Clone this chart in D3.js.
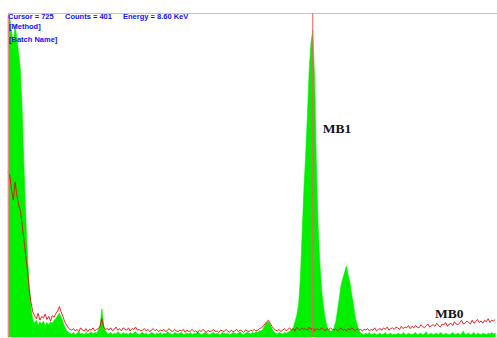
<!DOCTYPE html>
<html>
<head>
<meta charset="utf-8">
<script src="https://cdn.jsdelivr.net/npm/d3@7"></script>
<style>
  html, body { margin: 0; padding: 0; background: #fff; }
  svg { display: block; }
</style>
</head>
<body>
<div id="chart"></div>
<script>
// spectrum channels, 0.05 keV each
const channelWidth = 0.05;

// MB1 sample (green fill)
const mb1Counts = [
  422, 420, 400, 385, 410, 392, 372, 350, 297, 225,
  160, 107, 64, 38, 22, 18, 22, 15, 20, 17,
  21, 14, 19, 16, 20, 18, 22, 24, 28, 31,
  26, 20, 13, 9, 6, 5, 4, 6, 3, 5,
  7, 4, 5, 3, 6, 4, 5, 7, 4, 6,
  5, 9, 16, 37, 15, 8, 5, 4, 6, 3,
  5, 4, 7, 5, 3, 6, 4, 5, 3, 6,
  4, 5, 7, 4, 3, 5, 6, 4, 5, 3,
  4, 6, 5, 3, 5, 4, 6, 3, 5, 4,
  7, 5, 4, 3, 6, 5, 4, 5, 6, 3,
  4, 5, 4, 6, 3, 5, 4, 7, 5, 3,
  4, 6, 5, 4, 3, 5, 6, 4, 5, 4,
  3, 6, 5, 4, 5, 3, 4, 6, 5, 4,
  5, 7, 4, 3, 5, 6, 5, 4, 6, 5,
  7, 6, 8, 8, 11, 15, 19, 20, 16, 11,
  7, 5, 4, 6, 5, 4, 6, 5, 6, 8,
  9, 12, 20, 29, 42, 75, 134, 193, 238, 291,
  350, 386, 402, 343, 232, 147, 98, 62, 41, 25,
  14, 9, 8, 8, 12, 20, 35, 51, 68, 77,
  85, 93, 81, 71, 55, 42, 26, 16, 9, 5,
  4, 3, 5, 4, 6, 3, 4, 5, 3, 4,
  5, 3, 4, 6, 3, 4, 5, 3, 4, 3,
  5, 4, 3, 6, 4, 3, 5, 4, 3, 4,
  6, 3, 4, 5, 3, 4, 7, 3, 4, 5,
  3, 4, 5, 3, 6, 4, 3, 5, 4, 3,
  4, 6, 3, 4, 5, 3, 4, 8, 3, 4,
  5, 3, 4, 6, 3, 5, 4, 3, 5, 4,
  3, 5, 4, 6, 4, 5
];

// MB0 blank (red line)
const mb0Counts = [
  216, 212, 193, 180, 203, 186, 173, 166, 147, 127,
  107, 88, 62, 45, 33, 28, 24, 31, 22, 27,
  25, 30, 23, 27, 21, 28, 26, 31, 34, 40,
  33, 27, 20, 16, 12, 10, 9, 11, 8, 10,
  7, 12, 9, 8, 11, 7, 10, 9, 12, 8,
  10, 11, 14, 24, 13, 10, 11, 9, 12, 8,
  10, 13, 9, 11, 8, 12, 10, 9, 12, 8,
  11, 10, 13, 9, 10, 8, 9, 11, 8, 10,
  7, 9, 11, 8, 10, 7, 9, 8, 10, 7,
  9, 11, 8, 7, 10, 8, 7, 9, 8, 10,
  6, 9, 7, 8, 10, 7, 8, 6, 9, 7,
  10, 8, 6, 9, 7, 8, 10, 7, 8, 6,
  9, 8, 7, 10, 8, 6, 9, 7, 8, 10,
  7, 9, 8, 6, 9, 8, 7, 9, 8, 10,
  8, 9, 11, 12, 14, 17, 20, 22, 18, 14,
  11, 9, 8, 10, 7, 9, 11, 8, 10, 12,
  9, 11, 8, 13, 10, 9, 12, 10, 11, 9,
  13, 10, 12, 8, 11, 10, 9, 12, 10, 8,
  11, 9, 12, 10, 9, 11, 8, 10, 12, 9,
  10, 8, 11, 9, 12, 10, 8, 11, 9, 10,
  8, 10, 9, 11, 8, 10, 9, 12, 8, 10,
  11, 9, 12, 10, 13, 9, 11, 12, 10, 13,
  12, 10, 14, 11, 13, 12, 15, 11, 14, 12,
  15, 13, 12, 16, 14, 12, 15, 17, 13, 15,
  16, 14, 18, 15, 13, 17, 16, 19, 14, 17,
  18, 15, 20, 17, 16, 19, 22, 17, 18, 21,
  19, 17, 22, 18, 20, 23, 19, 21, 18, 22,
  20, 24, 19, 22, 21, 23
];

const cursorChannel = 725;
const cursorCounts = 401;
const cursorEnergy = 8.60;

const headerLines = ["[Method]", "[Batch Name]"];
const seriesLabels = [
  { name: "MB1", energy: 8.88, counts: 268 },
  { name: "MB0", energy: 12.05, counts: 25 }
];

const width = 497, height = 338;
const margin = { top: 13, right: 0, bottom: 1, left: 8 };

const svg = d3.select("#chart").append("svg")
  .attr("width", width)
  .attr("height", height);

const x = d3.scaleLinear()
  .domain([0, 13.8])
  .range([margin.left, width - margin.right]);

const y = d3.scaleLinear()
  .domain([0, 425])
  .range([height - margin.bottom, margin.top]);

const mb1 = mb1Counts.map((c, i) => ({ e: i * channelWidth, c: c }));
const mb0 = mb0Counts.map((c, i) => ({ e: i * channelWidth, c: c }));

// green filled spectrum
svg.append("path")
  .datum(mb1)
  .attr("fill", "#00f000")
  .attr("stroke", "#00f000")
  .attr("stroke-width", 0.6)
  .attr("d", d3.area()
    .x(d => x(d.e))
    .y0(y(0))
    .y1(d => y(d.c)));

// red spectrum line
svg.append("path")
  .datum(mb0)
  .attr("fill", "none")
  .attr("stroke", "#ee0000")
  .attr("stroke-opacity", 0.85)
  .attr("stroke-width", 1)
  .attr("d", d3.line()
    .x(d => x(d.e))
    .y(d => y(d.c)));

// top border and left axis
svg.append("g")
  .attr("transform", `translate(0,${margin.top})`)
  .call(d3.axisTop(x).ticks(0).tickSizeOuter(0))
  .select(".domain").attr("stroke", "#c4c4c4");

svg.append("g")
  .attr("transform", `translate(${margin.left},0)`)
  .call(d3.axisLeft(y).ticks(0).tickSizeOuter(0))
  .select(".domain").attr("stroke", "#f08888");

// cursor
svg.append("line")
  .attr("x1", x(cursorEnergy)).attr("x2", x(cursorEnergy))
  .attr("y1", y(425)).attr("y2", y(0))
  .attr("stroke", "#f06060")
  .attr("stroke-width", 1);

// header info
const info = svg.append("g")
  .attr("font-family", "Liberation Sans, Arial, sans-serif")
  .attr("font-size", "7.5px")
  .attr("font-weight", "bold")
  .attr("fill", "#1010ff");

info.append("text").attr("x", 8).attr("y", 19).text("Cursor = " + cursorChannel);
info.append("text").attr("x", 65).attr("y", 19).text("Counts = " + cursorCounts);
info.append("text").attr("x", 123).attr("y", 19).text("Energy = " + cursorEnergy.toFixed(2) + " KeV");

info.selectAll(".hdr")
  .data(headerLines)
  .enter()
  .append("text")
  .attr("class", "hdr")
  .attr("x", 9)
  .attr("y", (d, i) => 29 + i * 13)
  .text(d => d);

// series labels
svg.selectAll(".lbl")
  .data(seriesLabels)
  .enter()
  .append("text")
  .attr("class", "lbl")
  .attr("x", d => x(d.energy))
  .attr("y", d => y(d.counts))
  .attr("font-family", "Liberation Serif, Times New Roman, serif")
  .attr("font-size", "13.5px")
  .attr("font-weight", "bold")
  .attr("fill", "#151520")
  .text(d => d.name);
</script>
</body>
</html>
